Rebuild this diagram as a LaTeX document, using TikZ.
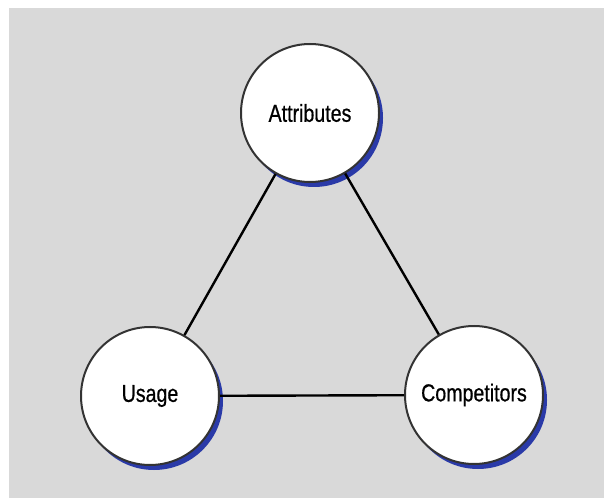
\documentclass[tikz,border=0pt]{standalone}
\usepackage{fontspec}
\setmainfont[FakeStretch=0.8,FakeBold=0.6]{Liberation Sans}
\usepackage{xcolor}
\usepackage{tikz}
\usetikzlibrary{shadows}

\definecolor{panelgray}{HTML}{D9D9D9}
\definecolor{shadowblue}{HTML}{2A3AA8}
\definecolor{rimgray}{HTML}{333333}

\begin{document}
\begin{tikzpicture}[x=1pt,y=1pt,
    topic/.style={draw=rimgray,line width=2pt,fill=white,circle,minimum size=138pt,inner sep=0pt,
        font=\fontsize{24.5}{28}\selectfont,
        drop shadow={shadow xshift=4pt,shadow yshift=-5pt,fill=shadowblue,opacity=1}},
    link/.style={line width=2.4pt,black}]
                \useasboundingbox (0,0) rectangle (604,498);
                % grey panel behind everything
                \fill[panelgray] (9,0) rectangle (604,490);
                % the three corners of the triangle
                \node[topic] (attr) at (310,385) {Attributes};
                \node[topic] (usage) at (150,102) {Usage};
                \node[topic] (comp) at (474,103) {Competitors};
                % Draw the sides between them
                \draw[link] (attr) -- (usage);
                \draw[link] (attr) -- (comp);
                \draw[link] (usage) -- (comp);
            \end{tikzpicture}
\end{document}
